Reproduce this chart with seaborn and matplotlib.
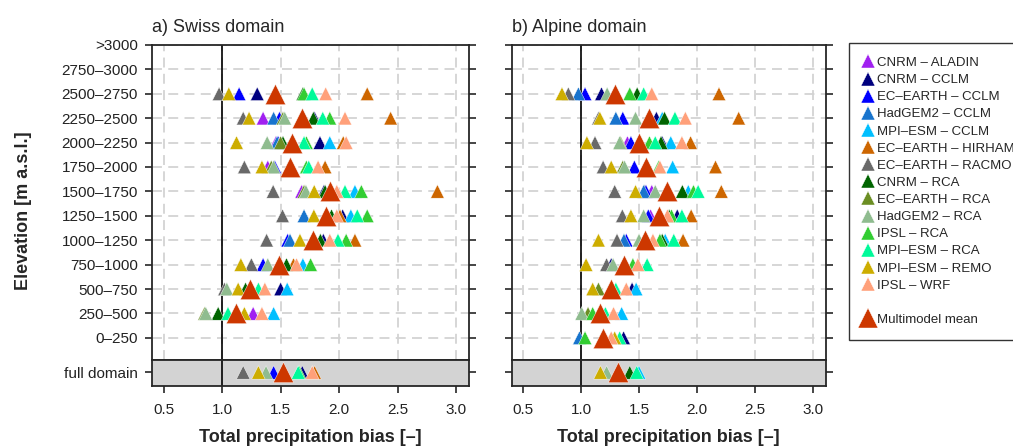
import numpy as np
import pandas as pd
import matplotlib
matplotlib.use("Agg")
import matplotlib.pyplot as plt
from matplotlib.lines import Line2D
import seaborn as sns

sns.set_style("ticks")
plt.rcParams['font.family'] = ['Liberation Sans', 'DejaVu Sans']
plt.rcParams['font.size'] = 11

nan = np.nan

models = ["CNRM – ALADIN", "CNRM – CCLM", "EC–EARTH – CCLM", "HadGEM2 – CCLM",
          "MPI–ESM – CCLM", "EC–EARTH – HIRHAM", "EC–EARTH – RACMO", "CNRM – RCA",
          "EC–EARTH – RCA", "HadGEM2 – RCA", "IPSL – RCA", "MPI–ESM – RCA",
          "MPI–ESM – REMO", "IPSL – WRF"]
colors = ["#A020F0", "#00007F", "#0000FF", "#1874CD", "#00BFFF", "#CD6600",
          "#696969", "#006400", "#6B8E23", "#8FBC8F", "#32CD32", "#00FA9A",
          "#CDAD00", "#FFA07A"]
mean_label = "Multimodel mean"
mean_color = "#CD3700"

elevations = [">3000", "2750–3000", "2500–2750", "2250–2500", "2000–2250",
              "1750–2000", "1500–1750", "1250–1500", "1000–1250", "750–1000",
              "500–750", "250–500", "0–250", "full domain"]

# one row per elevation band, 14 models then the multimodel mean
swiss_bias = [
    [nan] * 15,
    [nan] * 15,
    [nan, 1.30, 1.145, nan, nan, 2.24, 0.974, 1.69, nan, nan, 1.70, 1.77, 1.057, 1.885, 1.45],
    [1.35, 1.79, 1.49, 1.44, nan, 2.44, 1.18, 1.78, 1.52, 1.535, 1.92, 1.86, 1.23, 2.05, 1.68],
    [1.46, 1.836, 1.48, 1.47, 1.92, 2.035, nan, 1.52, 1.50, 1.385, 1.72, 1.70, 1.123, 2.06, 1.60],
    [1.39, nan, 1.45, nan, nan, 1.88, 1.19, nan, 1.42, 1.44, 1.72, 1.74, 1.34, 1.82, 1.58],
    [1.68, 1.87, nan, nan, 2.135, 2.84, 1.436, 1.88, 1.70, 1.716, 2.19, 2.05, 1.787, 1.98, 1.92],
    [nan, 2.03, nan, 1.70, 2.10, 2.007, 1.516, 1.935, nan, nan, 2.24, 2.155, 1.784, 1.98, 1.884],
    [nan, 1.865, 1.56, 1.58, nan, 2.135, 1.38, 1.84, nan, nan, 2.06, 1.99, 1.665, 1.92, 1.78],
    [nan, nan, 1.35, nan, 1.69, 1.61, 1.25, 1.55, nan, 1.39, 1.756, nan, 1.16, 1.636, 1.49],
    [nan, 1.50, nan, nan, 1.556, nan, 1.02, 1.20, nan, 1.04, nan, 1.31, 1.137, 1.365, 1.237],
    [1.265, nan, nan, nan, 1.44, nan, nan, 0.966, 0.85, 0.86, nan, 1.05, 1.19, 1.34, 1.12],
    [nan] * 15,
    [nan, 1.685, 1.44, nan, nan, 1.79, 1.18, nan, nan, 1.375, 1.66, 1.65, 1.31, 1.77, 1.52],
]

alpine_bias = [
    [nan] * 15,
    [nan] * 15,
    [nan, 1.176, 1.034, 0.977, nan, 2.19, 0.89, 1.484, nan, 1.225, 1.42, 1.54, 0.835, 1.61, 1.29],
    [nan, 1.65, 1.36, 1.30, 1.70, 2.36, 1.15, 1.72, nan, 1.47, nan, 1.81, 1.162, 1.90, 1.59],
    [1.40, 1.70, 1.43, nan, 1.774, 1.945, 1.12, 1.69, 1.34, 1.333, 1.59, 1.64, 1.05, 1.87, 1.50],
    [nan, nan, 1.46, nan, 1.79, 2.16, 1.19, nan, 1.36, 1.375, 1.67, nan, 1.26, 1.68, 1.56],
    [1.61, 1.55, 1.56, 1.54, 1.925, 2.21, 1.29, 1.874, nan, 1.64, 1.97, 2.01, 1.47, nan, 1.745],
    [1.60, 1.83, 1.58, nan, nan, 1.95, 1.356, 1.76, nan, 1.54, 1.78, 1.87, 1.43, 1.745, 1.675],
    [nan, nan, 1.39, 1.37, 1.726, 1.88, 1.31, 1.70, nan, 1.50, 1.68, 1.80, 1.15, 1.62, 1.555],
    [nan, 1.26, nan, nan, nan, nan, 1.22, nan, nan, 1.276, 1.447, 1.57, 1.043, 1.49, 1.37],
    [1.27, 1.44, nan, nan, 1.475, nan, nan, nan, 1.15, nan, nan, 1.30, 1.10, 1.39, 1.26],
    [nan, nan, nan, nan, 1.35, nan, nan, nan, 1.06, 1.006, 1.10, 1.21, nan, 1.28, 1.16],
    [nan, 1.367, nan, 0.986, nan, nan, nan, nan, nan, nan, 1.034, 1.333, 1.29, 1.26, 1.185],
    [nan, nan, nan, nan, 1.50, nan, nan, 1.42, nan, 1.22, nan, 1.48, 1.167, nan, 1.317],
]

xticks = [0.5, 1.0, 1.5, 2.0, 2.5, 3.0]
n_bands = len(elevations) - 1


def to_long(bias):
    recs = []
    for i, row in enumerate(bias):
        for j, v in enumerate(row):
            if np.isnan(v):
                continue
            name = models[j] if j < len(models) else mean_label
            full = i == n_bands
            ypos = 0 if full else n_bands - 1 - i
            recs.append({"bias": v, "y": ypos, "model": name, "full": full})
    return pd.DataFrame(recs)


fig = plt.figure(figsize=(10.13, 4.48), dpi=100)
palette = dict(zip(models, colors))
grid_kw = dict(color="#d3d3d3", linestyle=(0, (5.5, 3.5)), linewidth=1.3)

panels = [("a) Swiss domain", swiss_bias, 0.150, 0.313),
          ("b) Alpine domain", alpine_bias, 0.505, 0.310)]

for k, (title, bias, left, width) in enumerate(panels):
    df = to_long(bias)
    ax = fig.add_axes([left, 0.1964, width, 0.7032])
    axf = fig.add_axes([left, 0.1384, width, 0.058])

    for a, sub in [(ax, df[~df.full]), (axf, df[df.full])]:
        mod = sub[sub.model != mean_label]
        mm = sub[sub.model == mean_label]
        sns.scatterplot(data=mod, x="bias", y="y", hue="model", hue_order=models,
                        palette=palette, marker="^", s=95, edgecolor="white",
                        linewidth=0.3, legend=False, ax=a, zorder=3)
        sns.scatterplot(data=mm, x="bias", y="y", color=mean_color, marker="^",
                        s=215, edgecolor="white", linewidth=0.3, legend=False,
                        ax=a, zorder=4)
        a.axvline(1.0, color="black", lw=1.2, zorder=2)
        a.set_xlim(0.4, 3.11)
        a.set_xlabel("")
        a.set_ylabel("")
        for s in a.spines.values():
            s.set_linewidth(1.3)
        a.tick_params(axis="y", direction="out", length=5, width=1.2, pad=5,
                      left=True, right=True, labelright=False, labelcolor="#222222")

    # upper panel: elevation bands
    ax.set_ylim(-0.91, n_bands - 1)
    ax.set_yticks(range(n_bands))
    ax.set_yticklabels(elevations[:n_bands][::-1] if k == 0 else [])
    ax.set_xticks(xticks)
    ax.tick_params(axis="x", length=0, labelbottom=False)
    for xv in xticks:
        ax.axvline(xv, zorder=1, **grid_kw)
    for yv in range(n_bands):
        ax.axhline(yv, zorder=1, **grid_kw)
    ax.set_title(title, loc="left", fontsize=13, pad=9)

    # lower panel: full domain
    axf.set_facecolor("#d3d3d3")
    axf.set_ylim(-0.55, 0.5)
    axf.set_yticks([0])
    axf.set_yticklabels([elevations[-1]] if k == 0 else [])
    axf.set_xticks(xticks)
    axf.set_xticklabels([f"{v:.1f}" for v in xticks])
    axf.tick_params(axis="x", direction="out", length=5, width=1.2, pad=7,
                    labelcolor="#222222")
    axf.set_xlabel("Total precipitation bias [–]", fontsize=13,
                   fontweight="bold", labelpad=9)

fig.text(0.023, 0.53, "Elevation [m a.s.l.]", rotation=90, ha="center",
         va="center", fontsize=13, fontweight="bold")

handles = [Line2D([], [], marker="^", ls="none", color=c, markersize=10,
                  markeredgecolor="white", markeredgewidth=0.3) for c in colors]
handles.append(Line2D([], [], ls="none"))
handles.append(Line2D([], [], marker="^", ls="none", color=mean_color,
                      markersize=14, markeredgecolor="white", markeredgewidth=0.3))
labels = models + [" ", mean_label]
leg = fig.legend(handles, labels, loc="upper left", bbox_to_anchor=(0.838, 0.904),
                 borderaxespad=0, fontsize=9.5, handlelength=0.8, handletextpad=0.3,
                 labelspacing=0.37, borderpad=1.05, fancybox=False, frameon=True,
                 edgecolor="black")
leg.get_frame().set_linewidth(1.0)

fig.savefig("out.png", dpi=100)
